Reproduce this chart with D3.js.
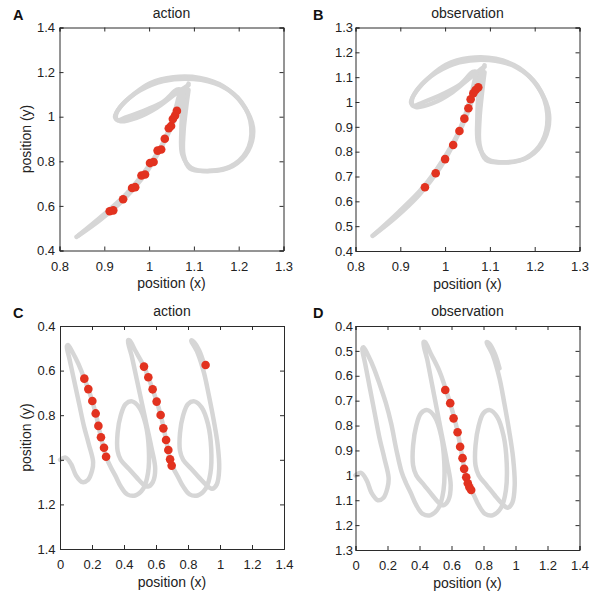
<!DOCTYPE html>
<html>
<head>
<meta charset="utf-8">
<script src="https://cdn.jsdelivr.net/npm/d3@7"></script>
<style>
  body { margin: 0; background: #fff; }
  svg { display: block; font-family: "Liberation Sans", Arial, Helvetica, sans-serif; }
</style>
</head>
<body>
<svg id="chart" width="600" height="594"></svg>
<script>
// ---- data ----
// handwriting trajectory (upper row, two overlapping repetitions)
const topTrace1 = [
  [0.838,0.461],[0.890,0.536],[0.942,0.626],[0.987,0.730],[1.024,0.850],[1.050,0.955],
  [1.069,1.059],[1.080,1.127],[1.088,1.142],[1.054,1.095],[1.017,1.040],[0.972,0.995],
  [0.935,0.980],[0.924,0.998],[0.936,1.045],[0.965,1.100],[1.002,1.150],[1.054,1.177],
  [1.113,1.174],[1.165,1.137],[1.209,1.055],[1.232,0.950],[1.221,0.846],[1.187,0.779],
  [1.135,0.756],[1.094,0.771],[1.074,0.831],[1.072,0.936],[1.075,1.041],[1.083,1.123],[1.088,1.148]
];
const topTrace2 = [
  [0.842,0.467],[0.897,0.558],[0.950,0.655],[0.995,0.767],[1.032,0.887],[1.054,0.999],
  [1.065,1.081],[1.069,1.121],[1.062,1.121],[1.032,1.068],[0.995,1.032],[0.950,0.998],
  [0.929,0.985],[0.926,1.008],[0.942,1.058],[0.980,1.118],[1.032,1.160],[1.099,1.169],
  [1.158,1.141],[1.206,1.066],[1.228,0.954],[1.217,0.842],[1.180,0.775],[1.128,0.757],
  [1.091,0.768],[1.077,0.828],[1.077,0.933],[1.083,1.045],[1.088,1.120]
];
// handwriting trajectory (lower row)
const bottomTrace = [
  [0.00,1.00],[0.035,0.99],[0.07,1.02],[0.10,1.07],[0.14,1.10],[0.175,1.09],[0.20,1.05],[0.207,1.01],
  [0.18,0.93],[0.15,0.85],[0.12,0.75],[0.09,0.65],[0.06,0.55],[0.043,0.49],
  [0.05,0.485],[0.08,0.52],
  [0.115,0.57],[0.152,0.636],[0.19,0.71],[0.223,0.792],[0.256,0.899],[0.288,0.986],[0.315,1.03],[0.345,1.07],
  [0.38,1.12],[0.42,1.155],[0.47,1.16],[0.52,1.13],[0.55,1.06],[0.555,0.95],[0.535,0.84],[0.495,0.765],
  [0.45,0.738],[0.41,0.75],[0.38,0.80],[0.36,0.88],[0.36,0.96],[0.38,1.00],
  [0.43,1.04],[0.48,1.08],[0.52,1.11],[0.55,1.12],[0.58,1.10],[0.595,1.04],
  [0.57,0.94],[0.54,0.84],[0.51,0.74],[0.48,0.64],[0.45,0.54],[0.425,0.465],
  [0.435,0.465],[0.47,0.51],
  [0.525,0.582],[0.579,0.684],[0.629,0.799],[0.663,0.911],[0.688,0.998],[0.71,1.04],[0.74,1.08],
  [0.77,1.12],[0.81,1.155],[0.86,1.16],[0.91,1.13],[0.94,1.06],[0.945,0.95],[0.925,0.84],[0.885,0.765],
  [0.84,0.738],[0.80,0.75],[0.77,0.80],[0.75,0.88],[0.75,0.96],[0.77,1.00],
  [0.82,1.04],[0.87,1.08],[0.91,1.11],[0.95,1.13],[0.98,1.11],[0.995,1.04],
  [0.985,0.93],[0.96,0.82],[0.93,0.71],[0.90,0.61],[0.86,0.52],[0.82,0.465],
  [0.835,0.47],[0.87,0.51],[0.90,0.57]
];

// red samples
const dotsA = [
  [0.912,0.576],[0.920,0.580],[0.942,0.630],[0.962,0.680],[0.969,0.684],[0.983,0.736],
  [0.991,0.741],[1.002,0.792],[1.010,0.797],[1.019,0.848],[1.027,0.853],[1.035,0.901],
  [1.044,0.948],[1.049,0.958],[1.053,0.990],[1.058,1.005],[1.062,1.026]
];
const dotsB = [
  [0.955,0.657],[0.979,0.713],[1.000,0.770],[1.018,0.827],[1.032,0.883],[1.043,0.933],
  [1.052,0.975],[1.057,1.011],[1.063,1.035],[1.068,1.048],[1.074,1.059]
];
const dotsC = [
  [0.152,0.636],[0.177,0.683],[0.202,0.736],[0.223,0.792],[0.240,0.848],[0.256,0.899],
  [0.275,0.946],[0.288,0.986],
  [0.525,0.582],[0.552,0.630],[0.579,0.684],[0.604,0.739],[0.629,0.799],[0.646,0.859],
  [0.663,0.911],[0.677,0.956],[0.688,0.998],[0.698,1.026],
  [0.910,0.575]
];
const dotsD = [
  [0.561,0.657],[0.592,0.710],[0.613,0.771],[0.638,0.827],[0.654,0.885],[0.669,0.931],
  [0.679,0.974],[0.692,1.008],[0.702,1.032],[0.712,1.048],[0.723,1.059]
];

// ticks
const xTicksTop = [0.8, 0.9, 1, 1.1, 1.2, 1.3];
const yTicksA = [0.4, 0.6, 0.8, 1, 1.2, 1.4];
const yTicksB = [0.4, 0.5, 0.6, 0.7, 0.8, 0.9, 1, 1.1, 1.2, 1.3];
const xTicksBottom = [0, 0.2, 0.4, 0.6, 0.8, 1, 1.2, 1.4];
const yTicksC = [0.4, 0.6, 0.8, 1, 1.2, 1.4];
const yTicksD = [0.4, 0.5, 0.6, 0.7, 0.8, 0.9, 1, 1.1, 1.2, 1.3];

const panelTitles = ['action', 'observation', 'action', 'observation'];
const panelLetters = ['A', 'B', 'C', 'D'];

// ---- drawing ----
const svg = d3.select('#chart');
svg.append('rect').attr('width', 600).attr('height', 594).attr('fill', '#fff');

const fmt = v => String(+v.toFixed(2));
const trailColor = '#d6d6d6';
const dotColor = '#e2321f';
const axisColor = '#2b2b2b';

const panels = [
  { left: 59.5, top: 27.5, w: 224, h: 223, xd: [0.8, 1.3], yd: [0.4, 1.4], flip: false,
    xt: xTicksTop, yt: yTicksA, traces: [topTrace1, topTrace2], dots: dotsA, ylab: true, ygap: 4.5 },
  { left: 355.5, top: 27.5, w: 224, h: 223.5, xd: [0.8, 1.3], yd: [0.4, 1.3], flip: false,
    xt: xTicksTop, yt: yTicksB, traces: [topTrace1, topTrace2], dots: dotsB, ylab: false, ygap: 2.5 },
  { left: 60, top: 326, w: 224, h: 223, xd: [0, 1.4], yd: [0.4, 1.4], flip: true,
    xt: xTicksBottom, yt: yTicksC, traces: [bottomTrace], dots: dotsC, ylab: true, ygap: 4.5 },
  { left: 355.5, top: 326, w: 224, h: 224, xd: [0, 1.4], yd: [0.4, 1.3], flip: true,
    xt: xTicksBottom, yt: yTicksD, traces: [bottomTrace], dots: dotsD, ylab: false, ygap: 2.5 }
];

panels.forEach((p, i) => {
  const x = d3.scaleLinear().domain(p.xd).range([0, p.w]);
  const y = d3.scaleLinear().domain(p.yd).range(p.flip ? [0, p.h] : [p.h, 0]);
  const g = svg.append('g').attr('transform', `translate(${p.left},${p.top})`);

  const line = d3.line()
    .x(d => x(d[0]))
    .y(d => y(d[1]))
    .curve(d3.curveCatmullRom.alpha(0.5));

  g.selectAll('path.trail')
    .data(p.traces)
    .enter()
    .append('path')
    .attr('class', 'trail')
    .attr('d', line)
    .attr('fill', 'none')
    .attr('stroke', trailColor)
    .attr('stroke-width', 4.5)
    .attr('stroke-linecap', 'round')
    .attr('stroke-linejoin', 'round');

  g.selectAll('circle')
    .data(p.dots)
    .enter()
    .append('circle')
    .attr('cx', d => x(d[0]))
    .attr('cy', d => y(d[1]))
    .attr('r', 4.3)
    .attr('fill', dotColor);

  // MATLAB style boxed axes, ticks pointing in on all sides
  const tl = 4;
  const axB = d3.axisBottom(x).tickValues(p.xt).tickSize(-tl).tickPadding(11).tickFormat(fmt);
  const axT = d3.axisTop(x).tickValues(p.xt).tickSize(-tl).tickFormat('');
  const axL = d3.axisLeft(y).tickValues(p.yt).tickSize(-tl).tickPadding(p.ygap).tickFormat(fmt);
  const axR = d3.axisRight(y).tickValues(p.yt).tickSize(-tl).tickFormat('');

  const gb = g.append('g').attr('transform', `translate(0,${p.h})`).call(axB);
  const gt = g.append('g').call(axT);
  const gl = g.append('g').call(axL);
  const gr = g.append('g').attr('transform', `translate(${p.w},0)`).call(axR);
  [gb, gt, gl, gr].forEach(a => {
    a.select('.domain').attr('stroke', axisColor);
    a.selectAll('.tick line').attr('stroke', axisColor);
    a.selectAll('text').attr('fill', '#222').style('font-size', '13px')
      .style('font-family', '"Liberation Sans", Arial, sans-serif');
  });

  // title
  g.append('text')
    .attr('x', p.w / 2)
    .attr('y', -10)
    .attr('text-anchor', 'middle')
    .style('font-size', '14px')
    .attr('fill', '#222')
    .text(panelTitles[i]);

  // panel letter
  g.append('text')
    .attr('x', (i % 2 ? 313 : 13) - p.left)
    .attr('y', -8)
    .style('font-size', '14.5px')
    .style('font-weight', 'bold')
    .attr('fill', '#111')
    .text(panelLetters[i]);

  // axis labels
  g.append('text')
    .attr('x', p.w / 2)
    .attr('y', p.h + 37.5)
    .attr('text-anchor', 'middle')
    .style('font-size', '14px')
    .attr('fill', '#222')
    .text('position (x)');

  if (p.ylab) {
    g.append('text')
      .attr('transform', `translate(${31 - p.left},${p.h / 2}) rotate(-90)`)
      .attr('text-anchor', 'middle')
      .style('font-size', '14px')
      .attr('fill', '#222')
      .text('position (y)');
  }
});
</script>
</body>
</html>
